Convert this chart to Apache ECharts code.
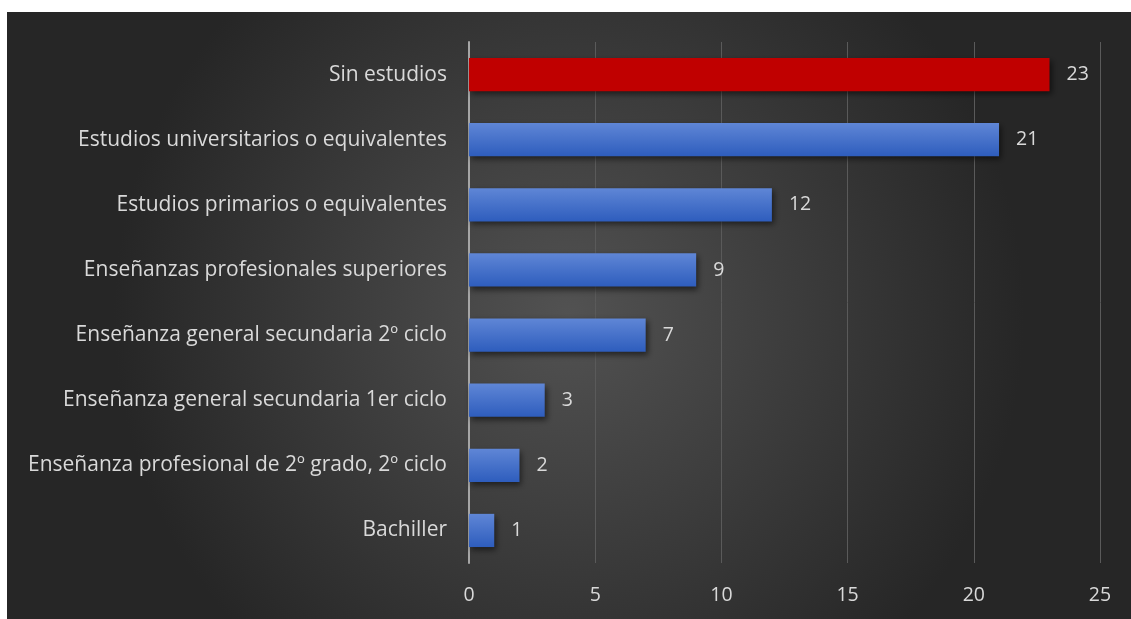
<!DOCTYPE html>
<html><head><meta charset="utf-8">
<script src="https://cdn.jsdelivr.net/npm/echarts@6/dist/echarts.min.js"></script>
<style>
html,body{margin:0;padding:0;background:#fff;width:1131px;height:619px;overflow:hidden;}
#c{position:absolute;left:7px;top:12px;width:1124px;height:607px;}
</style></head>
<body><div id="c"></div>
<script>
const categories = ["Bachiller","Enseñanza profesional de 2º grado, 2º ciclo","Enseñanza general secundaria 1er ciclo","Enseñanza general secundaria 2º ciclo","Enseñanzas profesionales superiores","Estudios primarios o equivalentes","Estudios universitarios o equivalentes","Sin estudios"];
const values = [1,2,3,7,9,12,21,23];
const highlight = "Sin estudios";
const xTicks = [0,5,10,15,20,25];

const FONT = 'Open Sans';
const chart = echarts.init(document.getElementById('c'));
const blue = new echarts.graphic.LinearGradient(0,0,0,1,[{offset:0,color:'#5f86d6'},{offset:1,color:'#2e5dbd'}]);
const data = categories.map((c,i)=>({value:values[i], itemStyle: c===highlight?{color:'#c00000'}:{color:blue}}));
chart.setOption({
  backgroundColor: new echarts.graphic.RadialGradient(0.5,0.5,0.75,[{offset:0,color:'#525252'},{offset:1,color:'#262626'}]),
  textStyle:{fontFamily:FONT},
  grid:{left:462,right:31,top:30,bottom:56,containLabel:false},
  xAxis:{type:'value',min:xTicks[0],max:xTicks[xTicks.length-1],interval:5,
    axisLine:{show:false},axisTick:{show:false},
    axisLabel:{color:'#d9d9d9',fontSize:19.5,margin:22,fontFamily:FONT},
    splitLine:{lineStyle:{color:'#5a5a5a',width:1}}},
  yAxis:{type:'category',data:categories,
    axisLine:{lineStyle:{color:'#a6a6a6',width:2}},axisTick:{show:false},
    axisLabel:{color:'#d9d9d9',fontSize:21,margin:22,fontFamily:FONT}},
  series:[{type:'bar',data:data,barWidth:'51%',
    itemStyle:{shadowBlur:6,shadowOffsetY:3,shadowOffsetX:2,shadowColor:'rgba(0,0,0,0.55)'},
    label:{show:true,position:'right',distance:17,color:'#d9d9d9',fontSize:19.5,fontFamily:FONT},
    animation:false}],
  animation:false
});
</script></body></html>
